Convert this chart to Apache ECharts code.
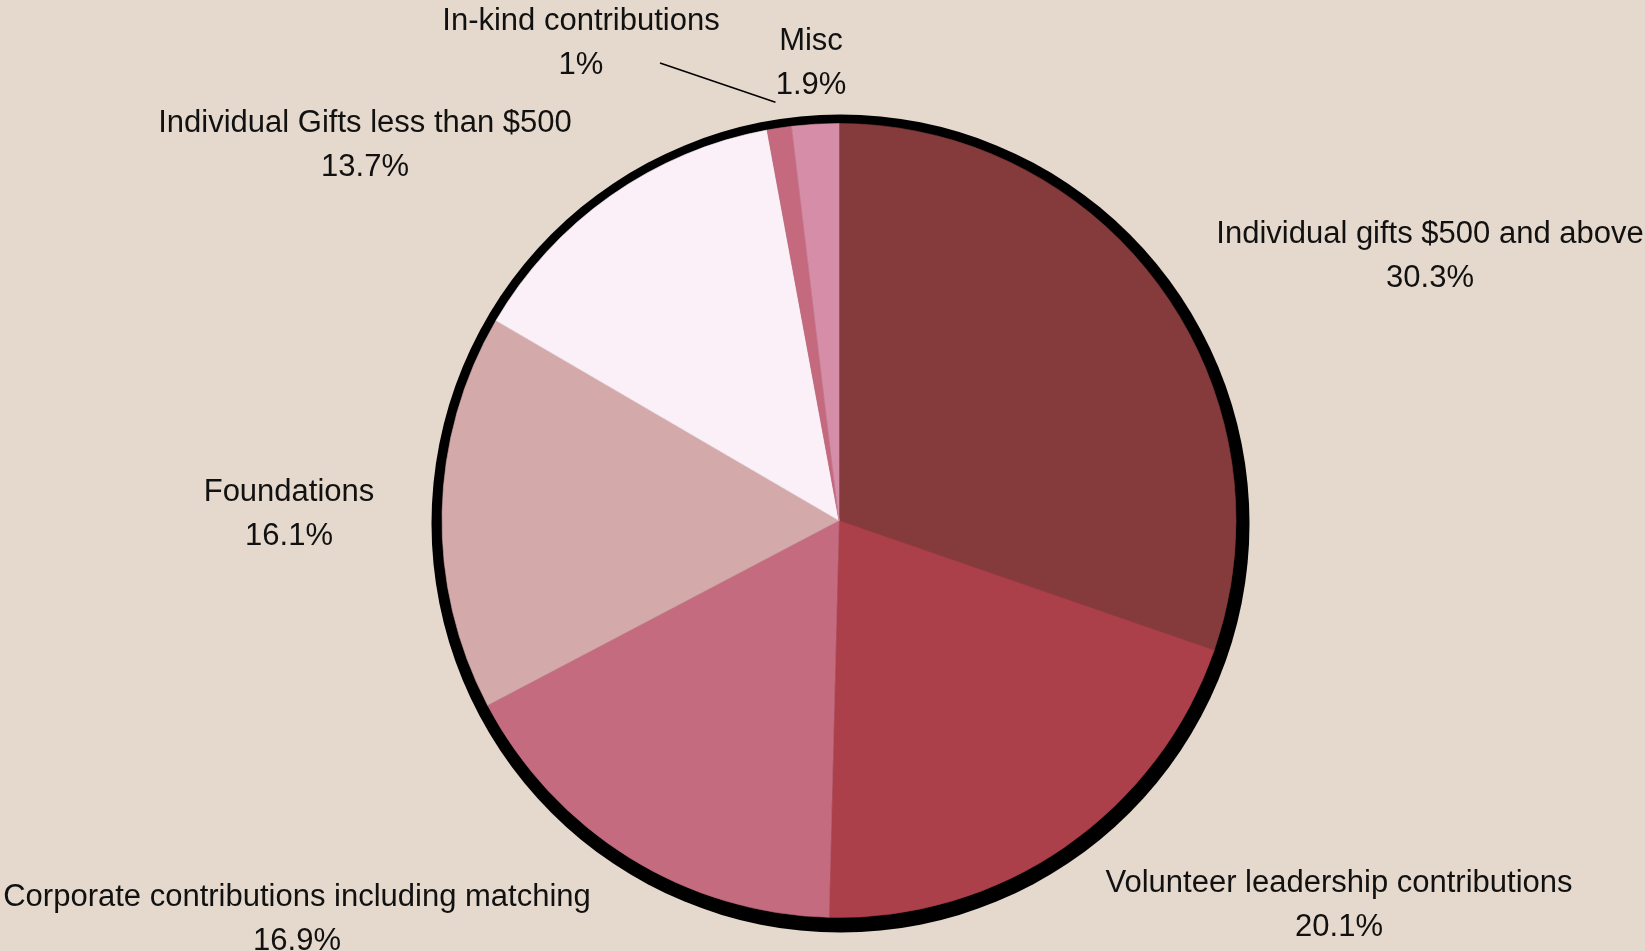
<!DOCTYPE html>
<html>
<head>
<meta charset="utf-8">
<title>Contribution sources</title>
<script src="https://cdn.jsdelivr.net/npm/echarts@6/dist/echarts.min.js"></script>
<style>
  html, body { margin: 0; padding: 0; background: #e5d8cc; }
  #chart { width: 1645px; height: 951px; }
</style>
</head>
<body>
<div id="chart"></div>
<script>
// Share of contributions by source, in percent
const categories = [
  'Individual gifts $500 and above',
  'Volunteer leadership contributions',
  'Corporate contributions including matching',
  'Foundations',
  'Individual Gifts less than $500',
  'In-kind contributions',
  'Misc'
];
const shares = [30.3, 20.1, 16.9, 16.1, 13.7, 1, 1.9];
const sliceColors = ['#853a3b', '#ab3f4a', '#c56b80', '#d3a9a9', '#fbf0f8', '#c56a7e', '#d68ea8'];

// Layout
const CX = 839, CY = 520.5, R = 397;
// Centre of each two-line label block
const labelCenters = [
  [1430, 256], [1339, 905], [297, 919], [289, 514],
  [365, 145], [581, 43], [811, 63]
];

// mid angle of a slice (degrees clockwise from 12 o'clock)
function midAngle(i) {
  const total = shares.reduce((a, b) => a + b, 0);
  let before = 0;
  for (let k = 0; k < i; k++) before += shares[k];
  return (before + shares[i] / 2) / total * 360;
}

const chart = echarts.init(document.getElementById('chart'));
chart.setOption({
  backgroundColor: '#e5d8cc',
  animation: false,
  series: [
    {
      // dark rim behind the pie
      type: 'pie',
      silent: true,
      z: 1,
      center: [CX + 1.5, CY + 3],
      radius: R + 12,
      label: { show: false },
      labelLine: { show: false },
      itemStyle: { color: '#000', borderWidth: 0 },
      data: [{ value: 1, name: '' }]
    },
    {
      type: 'pie',
      z: 2,
      center: [CX, CY],
      radius: R,
      startAngle: 90,
      clockwise: true,
      avoidLabelOverlap: false,
      label: {
        show: true,
        position: 'outside',
        formatter: '{b}\n{c}%',
        color: '#111',
        fontFamily: '"Liberation Sans", Arial, Helvetica, sans-serif',
        fontSize: 31,
        lineHeight: 44,
        align: 'center'
      },
      labelLine: { show: false },
      labelLayout: function (params) {
        const i = params.dataIndex;
        const c = labelCenters[i];
        const out = { x: c[0], y: c[1], align: 'center', verticalAlign: 'middle' };
        if (categories[i] === 'In-kind contributions') {
          const a = midAngle(i) * Math.PI / 180;
          const rEnd = R + 26;
          out.labelLinePoints = [
            [c[0] + 79, c[1] + 20],
            [CX + rEnd * Math.sin(a), CY - rEnd * Math.cos(a)]
          ];
        }
        return out;
      },
      data: categories.map((name, i) => {
        const item = {
          name: name,
          value: shares[i],
          itemStyle: { color: sliceColors[i], borderColor: sliceColors[i], borderWidth: 0.6 }
        };
        if (name === 'In-kind contributions') {
          item.labelLine = { show: true, lineStyle: { color: '#000', width: 1.5 } };
        }
        return item;
      })
    }
  ]
});
</script>
</body>
</html>
